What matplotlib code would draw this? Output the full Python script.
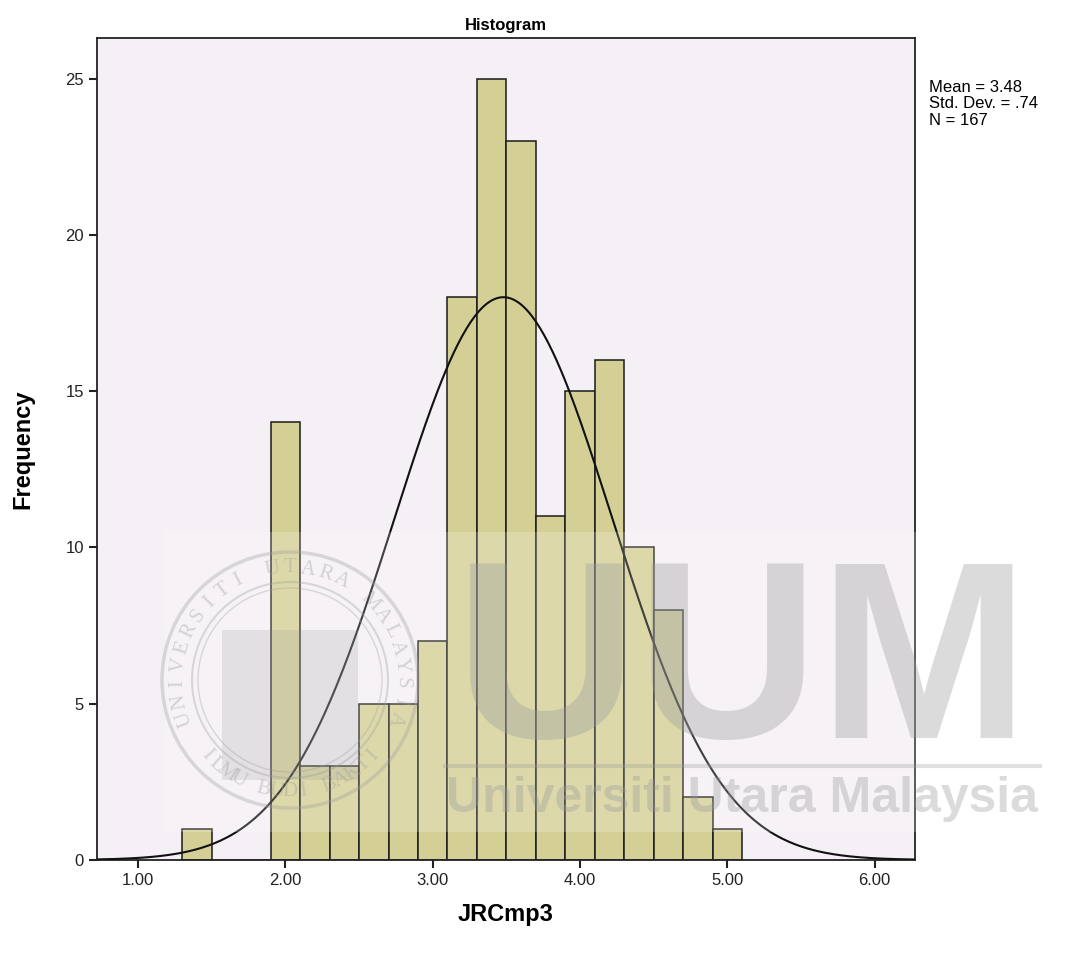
import numpy as np
import matplotlib
matplotlib.use("Agg")
import matplotlib.pyplot as plt
from matplotlib.patches import Circle, Rectangle

plt.rcParams['font.family'] = ['Liberation Sans', 'DejaVu Sans']

# histogram data (bins of width .2 starting at 1.3)
bin_left = [1.3, 1.5, 1.7, 1.9, 2.1, 2.3, 2.5, 2.7, 2.9, 3.1, 3.3, 3.5, 3.7, 3.9, 4.1, 4.3, 4.5, 4.7, 4.9]
counts = [1, 0, 0, 14, 3, 3, 5, 5, 7, 18, 25, 23, 11, 15, 16, 10, 8, 2, 1]
bin_width = 0.2
mean = 3.48
std = 0.74
n = 167
xticks = [1.0, 2.0, 3.0, 4.0, 5.0, 6.0]
yticks = [0, 5, 10, 15, 20, 25]

fig = plt.figure(figsize=(10.76, 9.57), dpi=100)
ax = fig.add_axes([0.0901, 0.1014, 0.7603, 0.8589])
ax.set_facecolor('#f4f0f5')

ax.bar(bin_left, counts, width=bin_width, align='edge', color='#d4cf95',
       edgecolor='#1a1a1a', linewidth=1.1, zorder=2)

# normal curve scaled to counts
xs = np.linspace(0.72, 6.28, 400)
pdf = n * bin_width * np.exp(-0.5 * ((xs - mean) / std) ** 2) / (std * np.sqrt(2 * np.pi))
ax.plot(xs, pdf, color='#111111', linewidth=1.5, zorder=3)

ax.set_xlim(0.72, 6.275)
ax.set_ylim(0, 26.3)
ax.set_xticks(xticks)
ax.set_xticklabels(['%.2f' % t for t in xticks])
ax.set_yticks(yticks)
ax.tick_params(axis='both', labelsize=12, length=6, width=1.5, color='#222222',
               labelcolor='#222222')
for s in ax.spines.values():
    s.set_linewidth(1.3)
    s.set_color('#222222')

ax.set_xlabel('JRCmp3', fontsize=17, fontweight='bold', labelpad=11)
ax.set_ylabel('Frequency', fontsize=17, fontweight='bold', labelpad=22)
ax.set_title('Histogram', fontsize=12, fontweight='bold', pad=6)

fig.text(929 / 1076, 1 - 80 / 957,
         'Mean = %.2f\nStd. Dev. = %s\nN = %d' % (mean, ('%.2f' % std)[1:], n),
         fontsize=12, va='top', ha='left', linespacing=1.12)

# watermark overlay, pixel coordinates
wm = fig.add_axes([0, 0, 1, 1], zorder=5)
wm.set_xlim(0, 1076)
wm.set_ylim(957, 0)
wm.axis('off')
wm.patch.set_alpha(0)
wm.add_patch(Rectangle((165, 532), 875, 300, color='white', alpha=0.2, lw=0))
wm.text(742, 672, 'UUM', fontsize=182, fontweight='bold', color='#9a9a9a',
        alpha=0.35, ha='center', va='center')
wm.plot([445, 1040], [766, 766], color='#9a9a9a', alpha=0.3, lw=3)
wm.text(742, 799, 'Universiti Utara Malaysia', fontsize=36, fontweight='bold',
        color='#9a9a9a', alpha=0.35, ha='center', va='center')
cx, cy = 290, 680
for r, lw in [(128, 2.5), (98, 1.5), (92, 1.0)]:
    wm.add_patch(Circle((cx, cy), r, fill=False, ec='#a0a0a0', lw=lw, alpha=0.35))
top_txt = 'UNIVERSITI UTARA MALAYSIA'
angs = np.linspace(200, -20, len(top_txt))
for ch, a in zip(top_txt, angs):
    t = np.deg2rad(a)
    wm.text(cx + 112 * np.cos(t), cy - 112 * np.sin(t), ch, fontsize=15,
            fontfamily='Liberation Serif', color='#a0a0a0', alpha=0.4,
            rotation=a - 90, ha='center', va='center')
bot_txt = 'ILMU BUDI BAKTI'
angs = np.linspace(222, 318, len(bot_txt))
for ch, a in zip(bot_txt, angs):
    t = np.deg2rad(a)
    wm.text(cx + 112 * np.cos(t), cy - 112 * np.sin(t), ch, fontsize=15,
            fontfamily='Liberation Serif', color='#a0a0a0', alpha=0.4,
            rotation=a + 90, ha='center', va='center')
wm.add_patch(Rectangle((222, 630), 136, 150, color='#909090', alpha=0.18, lw=0))

fig.savefig('out.png', dpi=100)
